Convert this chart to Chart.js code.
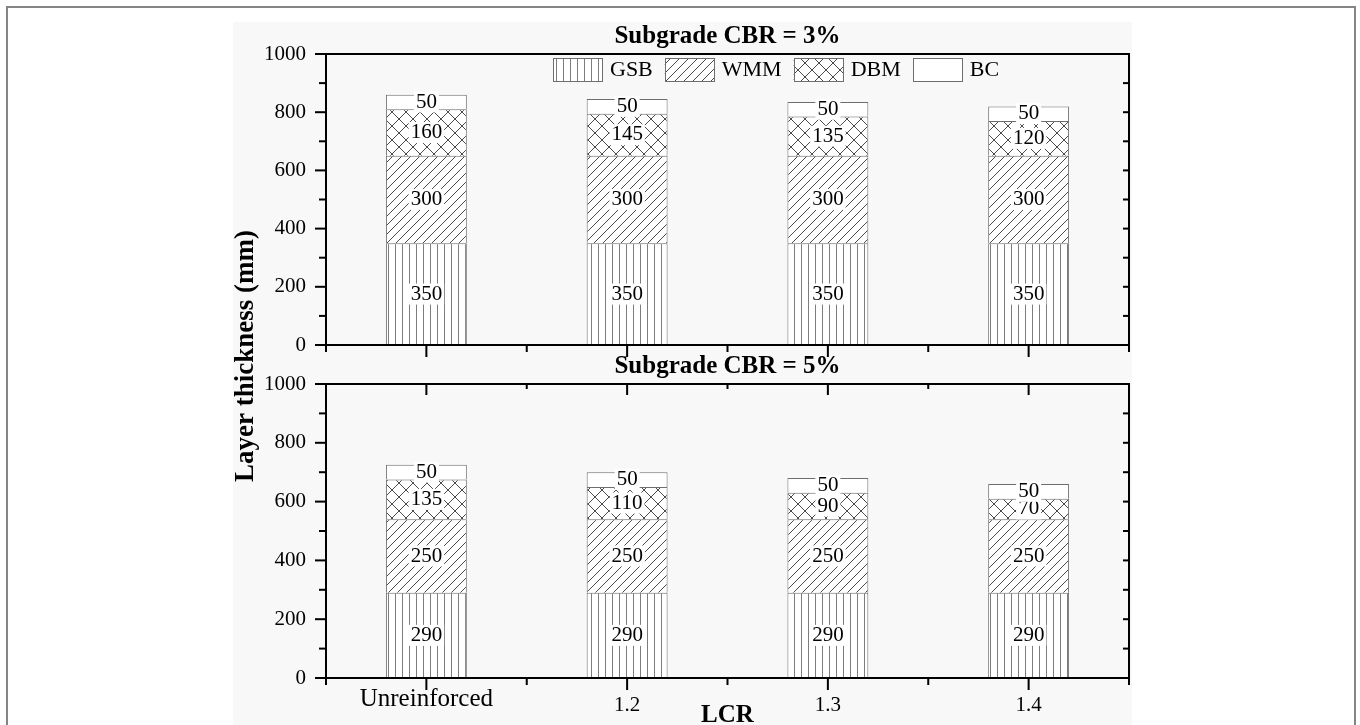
<!DOCTYPE html>
<html>
<head>
<meta charset="utf-8">
<title>Layer thickness vs LCR</title>
<script src="https://cdn.jsdelivr.net/npm/chart.js@4.4.1/dist/chart.umd.min.js"></script>
<style>
  html, body { margin: 0; padding: 0; background: #ffffff; overflow: hidden; }
  #frame { position: absolute; left: 6px; top: 6px; width: 1350px; height: 760px; border: 2px solid #858585; box-sizing: border-box; }
  #panel { position: absolute; left: 233px; top: 22px; width: 899px; height: 720px; background: #f8f8f8; }
  #wrap { position: absolute; left: 0; top: 0; width: 1360px; height: 725px; }
</style>
</head>
<body>
<div id="frame"></div>
<div id="panel"></div>
<div id="wrap"><canvas id="c" width="1360" height="725"></canvas></div>
<script>
// ---- data ----
const categories = ['Unreinforced', '1.2', '1.3', '1.4'];
const layerNames = ['GSB', 'WMM', 'DBM', 'BC'];
const panelTitles = ['Subgrade CBR = 3%', 'Subgrade CBR = 5%'];

// Subgrade CBR = 3%
const gsbCbr3 = [350, 350, 350, 350];
const wmmCbr3 = [300, 300, 300, 300];
const dbmCbr3 = [160, 145, 135, 120];
const bcCbr3  = [50, 50, 50, 50];

// Subgrade CBR = 5%
const gsbCbr5 = [290, 290, 290, 290];
const wmmCbr5 = [250, 250, 250, 250];
const dbmCbr5 = [135, 110, 90, 70];
const bcCbr5  = [50, 50, 50, 50];

const yTickValues = [0, 200, 400, 600, 800, 1000];

// ---- styling helpers ----
const FONT = "'Liberation Serif', 'Times New Roman', Times, serif";
const OUTLINE = '#6e6e6e';

const canvas = document.getElementById('c');
const ctx = canvas.getContext('2d');

function hatchTile(size, draw) {
  const t = document.createElement('canvas');
  t.width = size; t.height = size;
  const g = t.getContext('2d');
  g.fillStyle = '#ffffff';
  g.fillRect(0, 0, size, size);
  g.lineWidth = 1;
  draw(g, size);
  return t;
}

const fills = {
  GSB: ctx.createPattern(hatchTile(7, (g, s) => {
    g.strokeStyle = '#7d7d7d';
    g.beginPath(); g.moveTo(3.5, 0); g.lineTo(3.5, s); g.stroke();
  }), 'repeat'),
  WMM: ctx.createPattern(hatchTile(9, (g, s) => {
    g.strokeStyle = '#4a4a4a';
    g.beginPath();
    for (const o of [-s, 0, s]) { g.moveTo(o, s); g.lineTo(o + s, 0); }
    g.stroke();
  }), 'repeat'),
  DBM: ctx.createPattern(hatchTile(14, (g, s) => {
    g.strokeStyle = '#4a4a4a';
    g.beginPath();
    for (const o of [-s, 0, s]) {
      g.moveTo(o, s); g.lineTo(o + s, 0);
      g.moveTo(o, 0); g.lineTo(o + s, s);
    }
    g.stroke();
  }), 'repeat'),
  BC: '#ffffff'
};

function layerDataset(name, values, yAxisID) {
  return {
    label: name,
    data: values,
    yAxisID: yAxisID,
    stack: 'layers',
    backgroundColor: fills[name],
    borderColor: OUTLINE,
    borderWidth: 1,
    barPercentage: 0.403,
    categoryPercentage: 1
  };
}

const datasets = [
  layerDataset('GSB', gsbCbr3, 'yTop'),
  layerDataset('WMM', wmmCbr3, 'yTop'),
  layerDataset('DBM', dbmCbr3, 'yTop'),
  layerDataset('BC',  bcCbr3,  'yTop'),
  layerDataset('GSB', gsbCbr5, 'yBot'),
  layerDataset('WMM', wmmCbr5, 'yBot'),
  layerDataset('DBM', dbmCbr5, 'yBot'),
  layerDataset('BC',  bcCbr5,  'yBot')
];

function strokeLine(c, x1, y1, x2, y2) {
  c.beginPath(); c.moveTo(x1, y1); c.lineTo(x2, y2); c.stroke();
}

// Value labels, panel frames with tick marks, panel titles and the legend.
const panelDecor = {
  id: 'panelDecor',
  afterDatasetsDraw(chart) {
    const c = chart.ctx;
    c.save();
    c.font = `21px ${FONT}`;
    c.textAlign = 'center';
    c.textBaseline = 'middle';
    chart.data.datasets.forEach((ds, di) => {
      const meta = chart.getDatasetMeta(di);
      meta.data.forEach((bar, i) => {
        const txt = String(ds.data[i]);
        const cy = (bar.y + bar.base) / 2;
        const w = c.measureText(txt).width + 4;
        c.fillStyle = '#ffffff';
        c.fillRect(bar.x - w / 2, cy - 10.5, w, 21);
        c.fillStyle = '#000000';
        c.fillText(txt, bar.x, cy);
      });
    });
    c.restore();
  },
  afterDraw(chart) {
    const c = chart.ctx;
    const {left, right} = chart.chartArea;
    const xs = chart.scales.x;
    const panels = [chart.scales.yTop, chart.scales.yBot];
    const minorStep = (yTickValues[1] - yTickValues[0]) / 2;
    const yMax = yTickValues[yTickValues.length - 1];
    c.save();
    c.strokeStyle = '#000000';
    c.lineWidth = 2;
    panels.forEach((ys, p) => {
      const top = ys.top, bottom = ys.bottom;
      c.strokeRect(left, top, right - left, bottom - top);
      for (let v = yTickValues[0]; v <= yMax; v += minorStep) {
        const y = ys.getPixelForValue(v);
        const major = yTickValues.includes(v);
        strokeLine(c, left - (major ? 11 : 7), y, left, y);
        strokeLine(c, right - 6, y, right, y);
      }
      categories.forEach((cat, i) => {
        const x = xs.getPixelForValue(i);
        strokeLine(c, x, bottom, x, bottom + 12);
        if (p === 1) strokeLine(c, x, top, x, top + 11);
      });
      for (let i = 0; i <= categories.length; i++) {
        const x = xs.getPixelForValue(i - 0.5);
        strokeLine(c, x, bottom, x, bottom + 7);
        if (p === 1) strokeLine(c, x, top, x, top + 5);
      }
      c.fillStyle = '#000000';
      c.font = `bold 25px ${FONT}`;
      c.textAlign = 'center';
      c.textBaseline = 'alphabetic';
      c.fillText(panelTitles[p], (left + right) / 2, top - 11);
    });

    // legend row inside the upper panel
    const ly = panels[0].top + 4;
    let lx = left + 227;
    c.font = `22px ${FONT}`;
    c.textAlign = 'left';
    c.textBaseline = 'middle';
    layerNames.forEach((name, k) => {
      const ds = chart.data.datasets[k];
      c.fillStyle = ds.backgroundColor;
      c.fillRect(lx, ly, 50, 24);
      c.strokeStyle = OUTLINE;
      c.lineWidth = 1;
      c.strokeRect(Math.round(lx) + 0.5, Math.round(ly) + 0.5, 49, 23);
      c.fillStyle = '#000000';
      c.fillText(name, lx + 57, ly + 12);
      lx += 57 + c.measureText(name).width + 12;
    });
    c.restore();
  }
};

const yPanelAxis = (weight, stackWeight) => ({
  type: 'linear',
  position: 'left',
  stack: 'panels',
  stackWeight: stackWeight,
  weight: weight,
  stacked: true,
  min: yTickValues[0],
  max: yTickValues[yTickValues.length - 1],
  grid: { display: false, drawTicks: false },
  border: { display: false },
  ticks: {
    stepSize: yTickValues[1] - yTickValues[0],
    padding: 20,
    color: '#000000',
    font: { family: FONT, size: 21, lineHeight: 1.2 },
    callback: (value) => String(value)
  },
  afterFit: (s) => { s.width = 93; }
});

// empty axes filling the space between the two panels
const spacerAxis = (weight, stackWeight, title) => ({
  type: 'linear',
  position: 'left',
  stack: 'panels',
  stackWeight: stackWeight,
  weight: weight,
  min: 0,
  max: 1,
  grid: { display: false, drawTicks: false },
  border: { display: false },
  ticks: { display: false },
  title: title ? {
    display: true,
    text: title,
    color: '#000000',
    padding: 0,
    font: { family: FONT, size: 27, weight: 'bold', lineHeight: 1 }
  } : { display: false },
  afterFit: (s) => { s.width = 93; }
});

new Chart(ctx, {
  type: 'bar',
  data: { labels: categories, datasets: datasets },
  plugins: [panelDecor],
  options: {
    responsive: false,
    animation: false,
    devicePixelRatio: 1,
    layout: { padding: { left: 233, right: 231, top: 54, bottom: 0 } },
    plugins: {
      legend: { display: false },
      title: { display: false },
      tooltip: { enabled: false }
    },
    scales: {
      x: {
        type: 'category',
        offset: true,
        stacked: true,
        grid: { display: false, drawTicks: false },
        border: { display: false },
        ticks: {
          autoSkip: false,
          maxRotation: 0,
          padding: 15,
          color: '#000000',
          font: (context) => context.index === 0
            ? { family: FONT, size: 25, lineHeight: 0.5 }
            : { family: FONT, size: 21, lineHeight: 1.2 }
        },
        title: {
          display: true,
          text: 'LCR',
          color: '#000000',
          padding: 0,
          font: { family: FONT, size: 25, weight: 'bold', lineHeight: 0.75 }
        },
        afterFit: (s) => { s.height = 47; }
      },
      yTop: yPanelAxis(4, 291),
      yGap: spacerAxis(3, 22, 'Layer thickness (mm)'),
      yGap2: spacerAxis(2, 17, null),
      yBot: yPanelAxis(1, 294)
    }
  }
});
</script>
</body>
</html>
